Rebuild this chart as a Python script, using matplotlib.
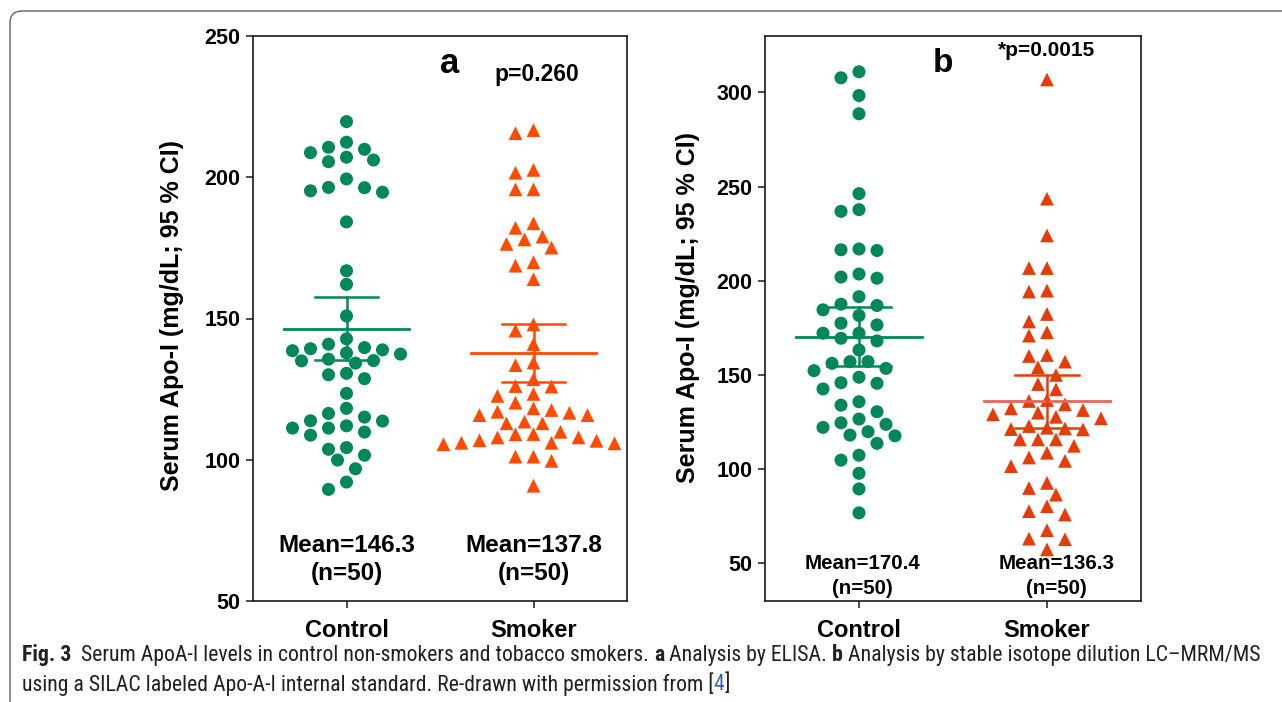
import matplotlib
matplotlib.use("Agg")
import matplotlib.pyplot as plt
import numpy as np
from matplotlib import font_manager
from matplotlib.patches import FancyBboxPatch
from matplotlib.transforms import IdentityTransform

# values (mg/dL)
groups = ["Control", "Smoker"]

elisa_control = [219.7, 212.4, 210.6, 209.9, 208.7, 207.1, 206.1, 205.5, 199.4, 196.4,
                 196.3, 195.2, 194.7, 184.2, 166.9, 162.1, 150.9, 142.8, 140.9, 139.7,
                 139.3, 138.9, 138.6, 137.8, 137.4, 135.6, 135.1, 135.0, 134.2, 130.6,
                 130.1, 128.7, 123.5, 118.2, 116.4, 115.1, 113.8, 113.7, 112.0, 111.2,
                 111.2, 109.8, 108.7, 104.3, 103.7, 101.6, 99.9, 96.8, 92.1, 89.5]
elisa_smoker = [216.7, 215.6, 202.6, 201.6, 195.7, 195.7, 183.7, 182.1, 179.0, 178.0,
                176.4, 175.1, 169.9, 168.7, 163.9, 147.9, 145.7, 140.9, 134.4, 133.5,
                128.5, 126.1, 125.9, 123.3, 122.6, 120.2, 118.2, 117.6, 117.0, 116.6,
                115.8, 115.8, 113.5, 112.9, 112.9, 109.9, 109.1, 109.0, 107.9, 107.9,
                106.9, 106.7, 106.0, 106.0, 105.8, 105.5, 101.1, 101.1, 99.6, 90.8]
mrm_control = [311.0, 307.8, 298.4, 288.7, 246.3, 237.8, 236.9, 216.9, 216.5, 216.1,
               203.6, 202.0, 201.4, 191.6, 187.6, 186.9, 184.6, 181.6, 177.5, 176.6,
               172.2, 172.2, 169.5, 168.1, 163.3, 157.1, 157.1, 156.2, 153.5, 152.3,
               148.8, 145.9, 145.6, 142.6, 135.8, 134.0, 130.5, 126.6, 124.6, 123.8,
               122.2, 119.9, 118.1, 117.7, 113.7, 107.4, 104.8, 97.8, 89.5, 76.8]
mrm_smoker = [306.9, 243.6, 224.1, 206.8, 206.8, 194.8, 194.3, 182.4, 178.4, 172.7,
              170.9, 160.6, 160.1, 157.1, 154.1, 150.0, 145.2, 142.4, 136.7, 136.2,
              134.4, 132.3, 131.4, 130.0, 129.1, 127.8, 127.0, 122.9, 122.0, 121.6,
              121.3, 121.1, 115.8, 115.8, 115.8, 112.4, 108.7, 106.2, 104.4, 101.6,
              92.7, 90.0, 86.5, 80.3, 77.7, 75.9, 67.6, 63.1, 62.8, 57.4]

elisa_mean = [146.3, 137.8]
elisa_ci_lo = [135.2, 127.4]
elisa_ci_hi = [157.6, 148.0]
mrm_mean = [170.4, 136.3]
mrm_ci_lo = [154.8, 122.0]
mrm_ci_hi = [186.3, 150.0]

n_per_group = [50, 50]
p_elisa = "p=0.260"
p_mrm = "*p=0.0015"

GREEN = "#00875A"
ORANGE_A = "#FF4A00"
ORANGE_B = "#E63C0A"
MEAN_B = "#E8665A"

plt.rcParams['font.family'] = ['Liberation Sans', 'DejaVu Sans']

W, H = 1282, 702
fig = plt.figure(figsize=(W / 100, H / 100), dpi=100)
fig.patch.set_facecolor("white")

ax_a = fig.add_axes([253 / W, 1 - 601 / H, 374 / W, 565 / H])
ax_b = fig.add_axes([765 / W, 1 - 601 / H, 376 / W, 565 / H])


def swarm_x(ax, xc, vals, gap_px=9.0, min_px=13.5):
    # simple beeswarm in pixel space, returned in data coords
    vals = np.asarray(vals, float)
    tr = ax.transData
    pts = tr.transform(np.column_stack([np.full(len(vals), xc), vals]))
    ypx = pts[:, 1]
    x0 = pts[0, 0]
    offs = np.zeros(len(vals))
    placed = []
    cands = [0] + [s * k for k in range(1, 30) for s in (-1, 1)]
    for i in np.argsort(-vals):
        for c in cands:
            dx = c * gap_px
            if all((dx - px) ** 2 + (ypx[i] - py) ** 2 >= min_px ** 2 for px, py in placed):
                break
        placed.append((dx, ypx[i]))
        offs[i] = dx
    return tr.inverted().transform(np.column_stack([x0 + offs, ypx]))[:, 0]


def style_axis(ax, ylim, yticks, tick_fs):
    ax.set_xlim(0.5, 2.5)
    ax.set_ylim(*ylim)
    ax.set_yticks(yticks)
    ax.set_xticks([1, 2])
    ax.set_xticklabels(groups, fontsize=17, fontweight='bold')
    for lab in ax.get_yticklabels():
        lab.set_fontweight('bold')
        lab.set_fontsize(tick_fs)
    ax.tick_params(axis='y', length=5, width=1.1, pad=4, color="#1a1a1a")
    ax.tick_params(axis='x', length=5, width=1.1, pad=8, color="#1a1a1a")
    for sp in ax.spines.values():
        sp.set_linewidth(1.2)
        sp.set_color("#1a1a1a")


def draw_group(ax, xc, vals, marker, color, size, mean, lo, hi, mean_color):
    xs = swarm_x(ax, xc, vals)
    ax.scatter(xs, vals, marker=marker, s=size, color=color, edgecolors='none', zorder=3)
    ax.plot([xc - 0.335, xc + 0.335], [mean, mean], color=mean_color, lw=2.0, zorder=4)
    ax.plot([xc, xc], [lo, hi], color=color, lw=1.8, zorder=4)
    ax.plot([xc - 0.17, xc + 0.17], [hi, hi], color=color, lw=1.8, zorder=4)
    ax.plot([xc - 0.17, xc + 0.17], [lo, lo], color=color, lw=1.8, zorder=4)


# panel a: ELISA
style_axis(ax_a, (50, 250), [50, 100, 150, 200, 250], 15.5)
draw_group(ax_a, 1, elisa_control, 'o', GREEN, 88, elisa_mean[0], elisa_ci_lo[0], elisa_ci_hi[0], GREEN)
draw_group(ax_a, 2, elisa_smoker, '^', ORANGE_A, 98, elisa_mean[1], elisa_ci_lo[1], elisa_ci_hi[1], ORANGE_A)
ax_a.text(0.527, 0.952, "a", transform=ax_a.transAxes, fontsize=25, fontweight='bold',
          ha='center', va='center')
ax_a.text(0.759, 0.931, p_elisa, transform=ax_a.transAxes, fontsize=16.5, fontweight='bold',
          ha='center', va='center')
for i, xc in enumerate([1, 2]):
    ax_a.text(xc, 69.8, f"Mean={elisa_mean[i]}", fontsize=17.5, fontweight='bold', ha='center', va='center')
    ax_a.text(xc, 59.9, f"(n={n_per_group[i]})", fontsize=17.5, fontweight='bold', ha='center', va='center')
ax_a.text(-0.216, 0.505, "Serum Apo-I (mg/dL; 95 % CI)", transform=ax_a.transAxes, rotation=90,
          fontsize=18, fontweight='bold', ha='center', va='center')

# panel b: LC-MRM/MS
style_axis(ax_b, (30, 330), [50, 100, 150, 200, 250, 300], 15.5)
draw_group(ax_b, 1, mrm_control, 'o', GREEN, 88, mrm_mean[0], mrm_ci_lo[0], mrm_ci_hi[0], GREEN)
draw_group(ax_b, 2, mrm_smoker, '^', ORANGE_B, 98, mrm_mean[1], mrm_ci_lo[1], mrm_ci_hi[1], MEAN_B)
ax_b.text(0.473, 0.952, "b", transform=ax_b.transAxes, fontsize=24, fontweight='bold',
          ha='center', va='center')
ax_b.text(0.75, 0.975, p_mrm, transform=ax_b.transAxes, fontsize=15, fontweight='bold',
          ha='center', va='center')
for i, xc in enumerate([1.02, 2.05]):
    ax_b.text(xc, 50.0, f"Mean={mrm_mean[i]}", fontsize=14.8, fontweight='bold', ha='center', va='center')
    ax_b.text(xc, 36.7, f"(n={n_per_group[i]})", fontsize=14.8, fontweight='bold', ha='center', va='center')
ax_b.text(-0.205, 0.52, "Serum Apo-I (mg/dL; 95 % CI)", transform=ax_b.transAxes, rotation=90,
          fontsize=18, fontweight='bold', ha='center', va='center')

# outer rounded frame (cropped at right/bottom like the source page)
frame = FancyBboxPatch((10, -30), 1320, 721, boxstyle="round,pad=0,rounding_size=12",
                       transform=IdentityTransform(), fill=False, edgecolor="#606060", lw=1.0)
fig.add_artist(frame)

# caption with mixed weights, narrow face if one is installed
names = {f.name for f in font_manager.fontManager.ttflist}
narrow = [n for n in ['Liberation Sans Narrow', 'Roboto Condensed', 'Open Sans Condensed',
                      'Noto Sans Condensed', 'DejaVu Sans Condensed'] if n in names]
cap_family = narrow[:1] + ['Liberation Sans', 'DejaVu Sans']
CAP = "#231F20"
line1 = [("Fig. 3", 'bold', CAP), ("  Serum ApoA-I levels in control non-smokers and tobacco smokers. ", 'normal', CAP),
         ("a", 'bold', CAP), (" Analysis by ELISA. ", 'normal', CAP),
         ("b", 'bold', CAP), (" Analysis by stable isotope dilution LC\u2013MRM/MS", 'normal', CAP)]
line2 = [("using a SILAC labeled Apo-A-I internal standard. Re-drawn with permission from [", 'normal', CAP),
         ("4", 'normal', "#3a63b8"), ("]", 'normal', CAP)]

renderer = fig.canvas.get_renderer()


def run_width(runs, size):
    tot = 0
    for s, w, c in runs:
        t = fig.text(0, 0, s, fontsize=size, fontweight=w, family=cap_family)
        tot += t.get_window_extent(renderer).width
        t.remove()
    return tot


cap_size = 12.0 * 1238 / run_width(line1, 12.0)


def draw_runs(runs, x0, y0, size):
    x = x0
    for s, w, c in runs:
        t = fig.text(x / W, 1 - y0 / H, s, fontsize=size, fontweight=w, family=cap_family,
                     color=c, ha='left', va='center')
        x += t.get_window_extent(renderer).width


draw_runs(line1, 22, 655, cap_size)
draw_runs(line2, 22, 684, cap_size)

fig.savefig("out.png", dpi=100)
